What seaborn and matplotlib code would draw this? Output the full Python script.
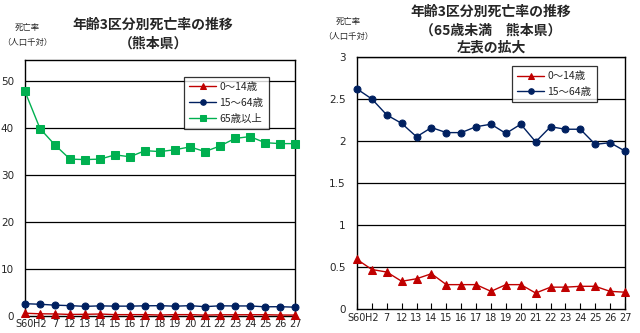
import matplotlib
matplotlib.use("Agg")
import matplotlib.pyplot as plt
import seaborn as sns
import numpy as np
import pandas as pd

# Survey years (Showa 60, Heisei 2 ... Heisei 27)
years = ["S60", "H2", "7", "12", "13", "14", "15", "16", "17", "18",
         "19", "20", "21", "22", "23", "24", "25", "26", "27"]

# Death rate per 1,000 population by age group (Kumamoto)
rate_0_14 = [0.59, 0.47, 0.44, 0.33, 0.36, 0.42, 0.29, 0.29, 0.29, 0.21,
             0.29, 0.29, 0.19, 0.26, 0.26, 0.27, 0.27, 0.21, 0.20]
rate_15_64 = [2.62, 2.50, 2.31, 2.21, 2.05, 2.16, 2.10, 2.10, 2.17, 2.20,
              2.09, 2.20, 1.99, 2.17, 2.14, 2.14, 1.96, 1.98, 1.88]
rate_65_over = [47.8, 39.9, 36.4, 33.4, 33.3, 33.4, 34.3, 33.9, 35.2, 35.0,
                35.4, 36.0, 35.0, 36.2, 37.8, 38.2, 36.9, 36.7, 36.7]

labels = ["0～14歳", "15～64歳", "65歳以上"]
colors = ["#C00000", "#002060", "#00B050"]
markers = ["^", "o", "s"]
msizes = [5.5, 5.0, 5.5]

sns.set_theme(style="white")
plt.rcParams["font.family"] = ["Noto Sans CJK JP", "DejaVu Sans"]

fig = plt.figure(figsize=(6.4, 3.33), dpi=100)
ax1 = fig.add_axes([25 / 640, 1 - 316 / 333, 270 / 640, 256 / 333])
ax2 = fig.add_axes([357 / 640, 1 - 309 / 333, 268 / 640, 252 / 333])

pos = np.arange(len(years))


def draw(ax, series_list, names, ylim, yticks):
    for vals, name, c, m, ms in zip(series_list, names, colors, markers, msizes):
        df = pd.DataFrame({"x": pos, "y": vals})
        sns.lineplot(data=df, x="x", y="y", ax=ax, color=c, marker=m,
                     markersize=ms, markeredgecolor=c, linewidth=1.0,
                     label=name, clip_on=False, zorder=3)
    ax.set_xlim(0, len(years) - 1)
    ax.set_ylim(*ylim)
    ax.set_yticks(yticks)
    ax.set_yticklabels([f"{v:g}" for v in yticks], fontsize=7.5,
                       family="DejaVu Sans")
    ax.set_xticks(pos)
    ax.set_xticklabels(years, fontsize=7, family="DejaVu Sans")
    ax.set_xlabel("")
    ax.set_ylabel("")
    for v in yticks[1:]:
        ax.axhline(v, color="black", linewidth=0.9, zorder=1)
    for sp in ax.spines.values():
        sp.set_color("black")
        sp.set_linewidth(1.0)
    ax.tick_params(axis="y", length=0, pad=8)
    ax.set_facecolor("white")


draw(ax1, [rate_0_14, rate_15_64, rate_65_over], labels,
     (0, 54.5), [0, 10, 20, 30, 40, 50])
ax1.tick_params(axis="x", length=0, pad=2)

draw(ax2, [rate_0_14, rate_15_64], labels[:2],
     (0, 3), [0, 0.5, 1, 1.5, 2, 2.5, 3])
ax2.tick_params(axis="x", direction="in", length=4, width=0.8,
                color="black", pad=3, bottom=True)

for ax, anchor in [(ax1, (0.589, 0.934)), (ax2, (0.578, 0.964))]:
    leg = ax.legend(loc="upper left", bbox_to_anchor=anchor, fontsize=7.5,
                    frameon=True, fancybox=False, borderpad=0.5,
                    labelspacing=0.55, handlelength=2.6, handletextpad=0.3,
                    borderaxespad=0, markerscale=0.8)
    leg.get_frame().set_edgecolor("black")
    leg.get_frame().set_linewidth(0.9)
    leg.set_zorder(5)

fig.text(153 / 640, 1 - 25 / 333, "年齢3区分別死亡率の推移", ha="center",
         va="center", fontsize=10, fontweight="bold")
fig.text(153 / 640, 1 - 44 / 333, "（熊本県）", ha="center",
         va="center", fontsize=10, fontweight="bold")
fig.text(491 / 640, 1 - 12 / 333, "年齢3区分別死亡率の推移", ha="center",
         va="center", fontsize=10, fontweight="bold")
fig.text(491 / 640, 1 - 31 / 333, "（65歳未満　熊本県）", ha="center",
         va="center", fontsize=10, fontweight="bold")
fig.text(491 / 640, 1 - 48 / 333, "左表の拡大", ha="center",
         va="center", fontsize=10, fontweight="bold")

for x0, y0 in [(27, 27), (348, 21)]:
    fig.text(x0 / 640, 1 - y0 / 333, "死亡率", ha="center", va="center",
             fontsize=6)
    fig.text(x0 / 640, 1 - (y0 + 15) / 333, "（人口千対）", ha="center",
             va="center", fontsize=6)

fig.savefig("out.png", dpi=100, facecolor="white")
